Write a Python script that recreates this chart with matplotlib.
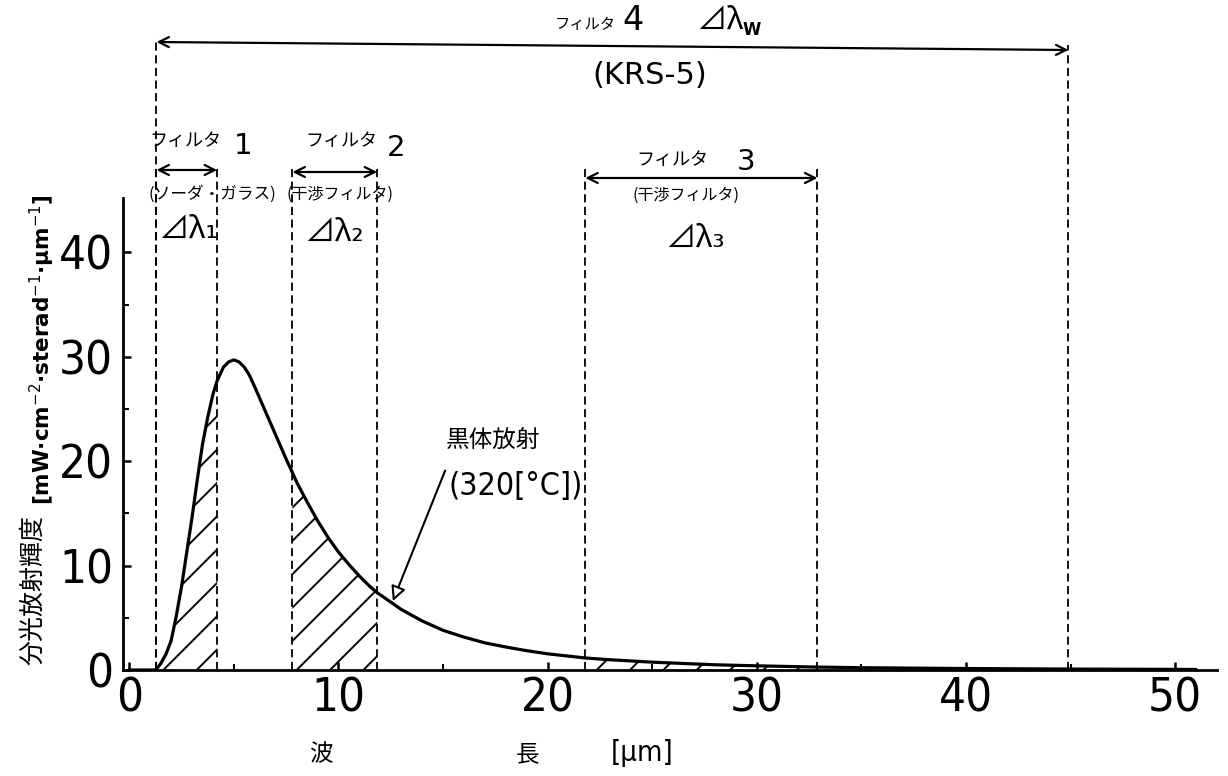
import numpy as np
import matplotlib
matplotlib.use("Agg")
import matplotlib.pyplot as plt
from matplotlib.transforms import blended_transform_factory

# ---- data ----
# black body curve (320 C), wavelength [um] vs spectral radiance
wavelength = [0.0, 1.0, 1.2, 1.3, 1.5, 1.75, 2.0, 2.25, 2.5, 2.75, 3.0, 3.25, 3.5,
              3.75, 4.0, 4.2, 4.5, 4.75, 5.0, 5.25, 5.5, 5.75, 6.0, 6.5, 7.0, 7.5,
              7.8, 8.0, 8.5, 9.0, 9.5, 10.0, 10.5, 11.0, 11.5, 11.85, 12.0, 13.0,
              14.0, 15.0, 16.0, 17.0, 18.0, 19.0, 20.0, 21.8, 23.0, 25.0, 28.0,
              30.0, 32.9, 35.0, 40.0, 44.9, 50.0, 51.0]
radiance = [0.0, 0.0, 0.0, 0.1, 0.6, 1.5, 2.8, 5.2, 8.0, 11.3, 14.6, 18.2, 21.6,
            24.2, 26.4, 27.7, 29.0, 29.5, 29.7, 29.5, 29.0, 28.2, 27.1, 24.8, 22.5,
            20.2, 18.9, 18.0, 16.1, 14.3, 12.7, 11.3, 10.1, 9.0, 8.0, 7.4, 7.2, 5.8,
            4.7, 3.8, 3.15, 2.6, 2.2, 1.85, 1.55, 1.15, 0.98, 0.75, 0.5,
            0.4, 0.28, 0.22, 0.14, 0.09, 0.06, 0.05]

# filter pass bands [um]
band1 = (1.3, 4.2)
band2 = (7.8, 11.85)
band3 = (21.8, 32.9)
band4 = (1.3, 44.9)

x_ticks = [0, 10, 20, 30, 40, 50]
y_ticks = [0, 10, 20, 30, 40]

JP = ["Noto Sans CJK JP", "DejaVu Sans"]
plt.rcParams["font.family"] = JP
plt.rcParams["mathtext.fontset"] = "dejavusans"
plt.rcParams["hatch.linewidth"] = 1.4

W, H = 1228, 776
fig = plt.figure(figsize=(W / 100, H / 100), dpi=100)
ax = fig.add_axes([123 / W, 106 / H, 1094 / W, 472 / H])
ax.set_xlim(-0.3, 52.0)
ax.set_ylim(0, 45.2)

x = np.array(wavelength)
y = np.array(radiance)
ax.plot(x, y, color="black", lw=2.3, solid_capstyle="round", zorder=4)

for a, b in (band1, band2, band3):
    m = (x >= a) & (x <= b)
    ax.fill_between(x[m], 0, y[m], hatch="/", facecolor="none",
                    edgecolor="black", linewidth=0, zorder=2)

for s in ("top", "right"):
    ax.spines[s].set_visible(False)
for s in ("left", "bottom"):
    ax.spines[s].set_linewidth(2.0)

ax.set_xticks(x_ticks)
ax.set_yticks(y_ticks)
ax.set_xticks([5, 15, 25, 35, 45], minor=True)
ax.set_yticks([5, 15, 25, 35], minor=True)
ax.tick_params(which="major", direction="in", length=6, width=1.8, labelsize=34, pad=5)
ax.tick_params(which="minor", direction="in", length=4, width=1.5)
ax.tick_params(axis="y", pad=7)
for lab in ax.get_xticklabels() + ax.get_yticklabels():
    lab.set_fontfamily("DejaVu Sans")
    lab.set_fontstretch("condensed")

# ---- dashed band edges and arrows above the axes ----
bt = blended_transform_factory(ax.transData, fig.transFigure)
fy = lambda py: 1 - py / H
dash = dict(color="black", lw=1.3, dashes=(4.5, 2.5), clip_on=False, transform=bt)

ax.plot([band4[0], band4[0]], [fy(670), fy(38)], **dash)
ax.plot([band4[1], band4[1]], [fy(670), fy(45)], **dash)
for a, b in (band1, band2, band3):
    ax.plot([a, a], [fy(670), fy(165)], **dash)
    ax.plot([b, b], [fy(670), fy(165)], **dash)

arrow = dict(arrowstyle="<->", color="black", lw=1.6, shrinkA=0, shrinkB=0,
             mutation_scale=18)
ax.annotate("", xy=(band4[1], fy(50)), xytext=(band4[0], fy(42)),
            xycoords=bt, textcoords=bt, arrowprops=arrow)
for (a, b), py in ((band1, 170), (band2, 172), (band3, 178)):
    ax.annotate("", xy=(b, fy(py)), xytext=(a, fy(py)),
                xycoords=bt, textcoords=bt, arrowprops=arrow)


def label(px, py, s, size, family=JP, **kw):
    fig.text(px / W, 1 - py / H, s, fontsize=size, family=family,
             ha="center", va="center", **kw)


label(585, 25, "フィルタ", 11)
label(633, 21, "4", 24, ["DejaVu Sans"])
label(720, 20, "⊿λ", 22)
label(752, 30, "W", 12, ["DejaVu Sans"], fontweight="bold")
label(650, 75, "(KRS-5)", 22, ["DejaVu Sans"])

label(185, 141, "フィルタ", 13)
label(243, 146, "1", 21, ["DejaVu Sans"])
label(212, 194, "(ソーダ・ガラス)", 12)
label(188, 229, "⊿λ₁", 22)

label(341, 141, "フィルタ", 13)
label(396, 148, "2", 21, ["DejaVu Sans"])
label(340, 194, "(干渉フィルタ)", 11.5)
label(334, 232, "⊿λ₂", 22)

label(672, 160, "フィルタ", 13)
label(746, 162, "3", 21, ["DejaVu Sans"])
label(686, 195, "(干渉フィルタ)", 11.5)
label(695, 238, "⊿λ₃", 22)

label(493, 441, "黒体放射", 17)
label(516, 486, "(320[°C])", 23, ["DejaVu Sans"], fontstretch="condensed")
ax.annotate("", xy=(12.6, 6.6), xytext=(15.1, 19.1),
            arrowprops=dict(arrowstyle="-|>", edgecolor="black", lw=1.5,
                            facecolor="white", mutation_scale=22,
                            shrinkA=0, shrinkB=0))

# axis titles
label(33, 590, "分光放射輝度", 18, rotation=90)
label(42, 350, "[mW·cm$^{-2}$·sterad$^{-1}$·µm$^{-1}$]", 15.5, ["DejaVu Sans"],
      rotation=90, fontweight="bold")
label(321, 755, "波", 17)
label(528, 755, "長", 17)
label(642, 753, "[µm]", 21, ["DejaVu Sans"], fontstretch="condensed")

fig.savefig("out.png", dpi=100)
